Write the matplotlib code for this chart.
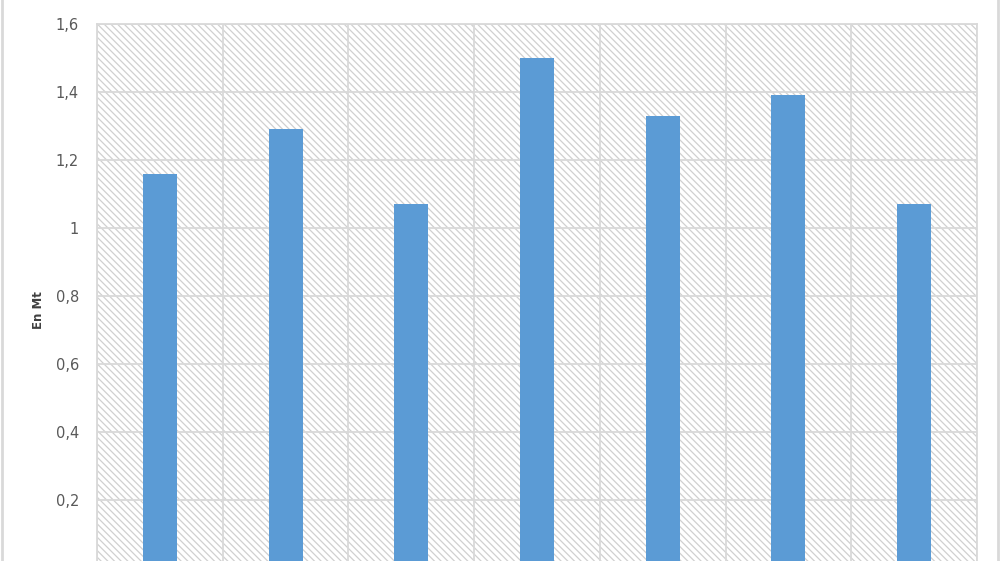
import matplotlib
matplotlib.use('Agg')
import matplotlib.pyplot as plt
import numpy as np

# values (Mt)
categories = ['1', '2', '3', '4', '5', '6', '7']
values = [1.16, 1.29, 1.07, 1.50, 1.33, 1.39, 1.07]
yticks = [0.2, 0.4, 0.6, 0.8, 1.0, 1.2, 1.4, 1.6]
ytick_labels = ['0,2', '0,4', '0,6', '0,8', '1', '1,2', '1,4', '1,6']

GRID = '#d9d9d9'
BAR = '#5b9bd5'

plt.rcParams['hatch.linewidth'] = 0.9
plt.rcParams['hatch.color'] = '#d0d0d0'

fig = plt.figure(figsize=(10, 5.61), dpi=100)
W, H = 1000, 561
# plot area: x 97..977 px, y 24 (1.6) .. 568 (0, below the crop)
ax = fig.add_axes([97 / W, 1 - 568 / H, 880 / W, 544 / H])

x = np.arange(len(categories))
ax.set_xlim(-0.5, len(categories) - 0.5)
ax.set_ylim(0, 1.6)

# hatched background
ax.patch.set_facecolor('white')
ax.patch.set_hatch('\\' * 5)
ax.patch.set_edgecolor('#d0d0d0')

ax.bar(x, values, width=0.27, color=BAR, zorder=3)

ax.set_yticks(yticks)
ax.set_yticklabels(ytick_labels)
ax.set_xticks(np.arange(len(categories) + 1) - 0.5, minor=True)
ax.set_xticks([])
ax.grid(True, which='minor', axis='x', color=GRID, linewidth=1.3, zorder=1)
ax.grid(True, which='major', axis='y', color=GRID, linewidth=1.3, zorder=1)
ax.tick_params(axis='y', length=0, pad=13, labelsize=10.5, labelcolor='#595959')
ax.tick_params(which='minor', length=0)
for s in ax.spines.values():
    s.set_color(GRID)
    s.set_linewidth(1.3)
ax.set_axisbelow(True)

fig.text(38 / W, 1 - 310 / H, 'En Mt', rotation=90, ha='center', va='center',
         fontsize=8.5, fontweight='bold', color='#404040')

# outer chart frame (left/right edges visible)
fig.add_artist(plt.Line2D([1.5 / W, 1.5 / W], [0, 1], color=GRID, linewidth=2))
fig.add_artist(plt.Line2D([997.5 / W, 997.5 / W], [0, 1], color=GRID, linewidth=2))

fig.savefig('out.png', dpi=100)
